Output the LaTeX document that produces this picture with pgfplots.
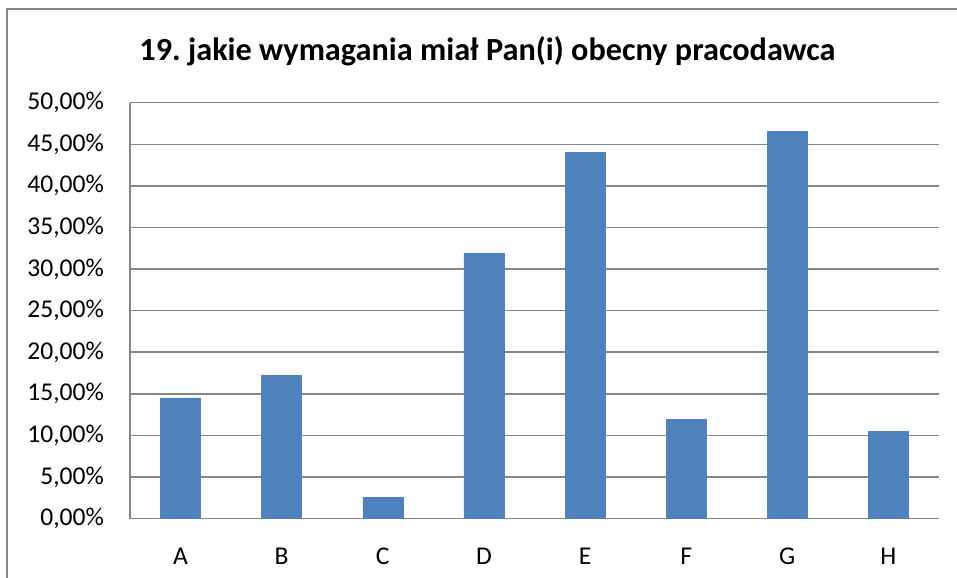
\documentclass[border=0pt]{standalone}
\usepackage{pgfplots}
\pgfplotsset{compat=1.18}
\usepackage{fontspec}
\setmainfont{Carlito}
\frenchspacing
\definecolor{barblue}{HTML}{4F81BD}
\definecolor{gridgray}{HTML}{868686}
\begin{document}
\begin{tikzpicture}
\useasboundingbox (0,0) rectangle (717.75pt,433.5pt);
\draw[gridgray, line width=1.5pt] (5.6pt,0) -- (5.6pt,426.4pt) -- (717.75pt,426.4pt);
\node[anchor=base, font=\bfseries\fontsize{24.2}{29}\selectfont] at (365.6pt,387.75pt) {19. jakie wymagania miał Pan(i) obecny pracodawca};
\begin{axis}[
  at={(97.5pt,44.6pt)}, anchor=south west,
  scale only axis,
  width=606.75pt, height=311.85pt,
  xmin=-0.5, xmax=7.5,
  ymin=0, ymax=50,
  ytick={0,5,...,50},
  xtick={0,1,2,3,4,5,6,7},
  xticklabels={A,B,C,D,E,F,G,H},
  axis x line*=bottom, axis y line*=left,
  axis line style={gridgray, line width=1.1pt},
  ymajorgrids,
  grid style={gridgray, line width=1.1pt},
  major tick style={draw=none},
  /pgf/number format/assume math mode=true,
  yticklabel={\pgfmathprintnumber[fixed,fixed zerofill,precision=2,use comma]{\tick}\%},
  ticklabel style={font=\fontsize{19.2}{23}\selectfont, text=black},
  yticklabel style={xshift=-16pt},
  xticklabel style={yshift=-14.5pt},
  ybar, bar width=30pt,
]
\addplot[fill=barblue, draw=barblue] coordinates {
(0,14.5) (1,17.25) (2,2.5) (3,31.95) (4,44.0) (5,11.9) (6,46.6) (7,10.5)
};
\end{axis}
\end{tikzpicture}
\end{document}
